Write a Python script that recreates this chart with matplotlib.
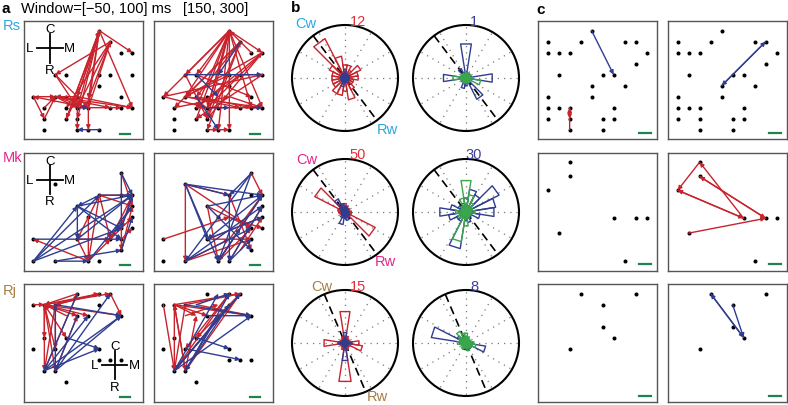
import numpy as np
import matplotlib.pyplot as plt
from matplotlib.patches import Circle

plt.rcParams['font.family'] = ['Liberation Sans', 'DejaVu Sans']

W, H = 788, 406
RED = '#C8232D'
BLUE = '#2F3D91'
GREEN = '#3AA64A'
BAR_GREEN = '#1F8350'
ROW_NAMES = ['Rs', 'Mk', 'Rj']
ROW_COLORS = ['#2AA7DF', '#E4258A', '#A57D45']
WINDOWS = ['Window=[\u221250, 100] ms', '[150, 300]']

# ---------------- panel a: electrodes (col, row) and arrows ----------------
RS_NODES = [(6, 0), (7, 1), (8, 2), (9, 2), (2, 4), (3, 4), (6, 4), (7, 4), (9, 4), (6, 5),
            (0, 6), (2, 6), (3, 6), (4, 6), (8, 6), (1, 7), (3, 7), (4, 7), (5, 7), (7, 7),
            (8, 7), (9, 7), (1, 8), (3, 8), (4, 8), (1, 9), (4, 9), (5, 9), (6, 9)]
RS1_RED = [((6, 0), (9, 2)), ((7, 1), (2, 4)), ((6, 0), (4, 7)), ((6, 0), (4, 6)), ((6, 0), (5, 7)),
           ((6, 0), (3, 8)), ((6, 0), (9, 7)), ((7, 1), (4, 7)), ((7, 1), (3, 7)), ((0, 6), (1, 8)),
           ((0, 6), (2, 6)), ((2, 6), (5, 7)), ((2, 6), (7, 7)), ((2, 6), (9, 7)), ((4, 7), (8, 7)),
           ((2, 4), (5, 7)), ((5, 6.2), (5, 9)), ((4, 7), (4, 9)), ((3, 8), (4, 6)), ((4, 6), (2, 6)),
           ((5, 7), (0, 6)), ((1, 8), (2, 6)), ((4, 6), (6, 0)), ((5, 7), (7, 1)), ((2, 4), (4, 7)),
           ((6, 0), (4, 8)), ((3, 8), (6, 0)), ((7, 1), (5, 6.2)), ((2, 6), (4, 7)), ((4, 6), (9, 7)),
           ((1, 7), (2, 6)), ((6, 0), (5, 6.2))]
RS1_BLUE = [((6, 9), (4, 9)), ((4, 7), (5, 7))]
RS2_RED = [((6, 0), (9, 2)), ((6, 0), (2, 4)), ((6, 0), (0, 6)), ((6, 0), (2, 6)), ((6, 0), (3, 7)),
           ((6, 0), (4, 7)), ((6, 0), (4, 8)), ((6, 0), (5, 9)), ((6, 0), (6, 9)), ((6, 0), (8, 7)),
           ((6, 0), (9, 7)), ((7, 1), (1, 7)), ((7, 1), (3, 6)), ((7, 1), (4, 9)), ((9, 2), (2, 6)),
           ((9, 2), (3, 7)), ((9, 2), (4, 8)), ((8, 2), (6, 0)), ((0, 6), (9, 4)), ((2, 6), (7, 7)),
           ((2, 6), (9, 7)), ((3, 6), (8, 7)), ((1, 7), (6, 6)), ((2, 4), (4, 8)), ((3, 8), (6, 0)),
           ((4, 8), (7, 1)), ((9, 4), (3, 8)), ((6, 6), (9, 7)), ((5, 9), (6, 9)), ((4, 9), (5, 9)),
           ((3, 4), (8, 6)), ((2, 6), (6, 4)), ((4, 7), (9, 2)), ((0, 6), (4, 7)), ((3, 7), (7, 4)),
           ((6, 0), (3, 4)), ((7, 1), (2, 6)), ((4, 7), (6, 0)), ((3, 7), (9, 7)), ((7, 4), (9, 4))]
RS2_BLUE = [((2, 4), (9, 4)), ((3, 6), (5, 9)), ((7, 1), (5, 4)), ((3, 4), (5, 6)),
            ((8, 7), (9, 7)), ((4, 7), (6, 7))]

MK_NODES = [(8, 1), (2, 2), (6, 3), (8, 3), (9, 3), (4, 4), (9, 4), (5, 5), (9, 5), (8, 6),
            (9, 6), (0, 7), (4, 7), (7, 7), (8, 7), (8, 8), (0, 9), (2, 9), (5, 9), (6, 9)]
MK1_BLUE = [((0, 9), (6, 3)), ((0, 9), (4, 4)), ((0, 9), (9, 3)), ((0, 7), (8, 7)), ((4, 4), (9, 3)),
            ((6, 3), (9, 3)), ((4, 4), (4, 7)), ((8, 1), (8, 6)), ((4, 4), (8, 7)), ((5, 9), (9, 4)),
            ((4, 7), (9, 3)), ((2, 9), (5, 9)), ((8, 1), (9, 3)), ((6, 3), (4, 4)), ((8, 6), (9, 3)),
            ((8, 8), (9, 5)), ((4, 4), (8, 6)), ((0, 9), (8, 6)), ((2, 9), (8, 8))]
MK1_RED = [((5, 9), (0, 7)), ((6, 3), (4, 7)), ((6, 3), (5, 9)), ((6, 3), (7, 7)), ((8, 1), (9, 4)),
           ((9, 3), (8, 6)), ((7, 7), (9, 5)), ((4, 7), (5, 9)), ((8, 8), (9, 4)), ((6, 3), (9, 4)),
           ((5, 9), (7, 7)), ((9, 3), (7, 7)), ((8, 6), (8, 8)), ((4, 7), (7, 7)), ((5, 5), (5, 9)),
           ((6, 3), (9, 3)), ((8, 7), (9, 6)), ((7, 7), (9, 4))]
MK2_BLUE = [((2, 2), (9, 3)), ((2, 2), (6, 3)), ((8, 1), (2, 9)), ((8, 1), (5, 9)), ((9, 3), (4, 7)),
            ((4, 4), (9, 3)), ((2, 9), (9, 4)), ((2, 2), (5, 9)), ((6, 3), (6, 9)), ((2, 9), (8, 6)),
            ((4, 7), (9, 5)), ((5, 9), (9, 3)), ((8, 1), (6, 3)), ((6, 9), (8, 7)), ((4, 4), (8, 8)),
            ((5, 9), (7, 6)), ((2, 2), (4, 7)), ((6, 9), (9, 4))]
MK2_RED = [((2, 2), (2, 9)), ((0, 7), (6, 5)), ((2, 2), (6, 3)), ((4, 4), (5, 9)), ((6, 3), (8, 8)),
           ((9, 3), (5, 9)), ((2, 9), (8, 7)), ((4, 7), (9, 5)), ((2, 2), (8, 6)), ((6, 9), (9, 4)),
           ((5, 9), (8, 6)), ((4, 7), (8, 7)), ((8, 1), (9, 3)), ((6, 5), (9, 6)), ((4, 4), (8, 6)),
           ((2, 9), (6, 7)), ((7, 8), (9, 5)), ((6, 7), (9, 3))]

RJ_NODES = [(4, 0), (6, 0), (7, 0), (0, 1), (1, 1), (2, 1), (6, 1), (4, 2), (5, 2), (8, 2),
            (1, 4), (3, 4), (0, 5), (2, 5), (6, 5), (6, 6), (7, 6), (8, 6), (1, 7), (2, 7), (3, 8)]
RJ1_RED = [((1, 1), (7, 0)), ((1, 1), (6, 0)), ((1, 1), (1, 7)), ((1, 1), (2, 7)), ((2, 1), (1, 7)),
           ((1, 1), (3, 4)), ((4, 0), (1, 1)), ((7, 0), (8, 2)), ((1, 1), (8, 2)), ((1, 1), (4, 2)),
           ((2, 1), (2, 5)), ((6, 0), (2, 1)), ((1, 7), (4, 0)), ((2, 7), (4, 2)), ((1, 1), (1, 4)),
           ((2, 5), (1, 1)), ((3, 2), (1, 1)), ((0, 1), (1, 1)), ((2, 1), (6, 0)), ((1, 1), (5, 2))]
RJ1_BLUE = [((1, 7), (8, 2)), ((1, 7), (6, 5)), ((2, 7), (8, 2)), ((2, 7), (2, 1)), ((4, 0), (1, 7)),
            ((3, 4), (6, 5)), ((2, 7), (7, 0)), ((1, 7), (5, 2)), ((2, 1), (8, 2)), ((4, 2), (2, 7))]
RJ2_RED = [((1, 1), (7, 0)), ((2, 1), (7, 0)), ((1, 1), (1, 7)), ((1, 1), (2, 7)), ((2, 1), (1, 7)),
           ((7, 0), (1, 7)), ((7, 0), (2, 7)), ((6, 0), (2, 5)), ((1, 1), (8, 2)), ((3, 1), (8, 2)),
           ((0, 1), (1, 7)), ((1, 1), (3, 2)), ((2, 2), (5, 1)), ((1, 1), (4, 2)), ((2, 7), (3, 2)),
           ((7, 0), (3, 4)), ((1, 7), (6, 0)), ((2, 7), (1, 1))]
RJ2_BLUE = [((1, 7), (7, 0)), ((2, 7), (6, 0)), ((1, 7), (5, 0)), ((3, 4), (6, 5)), ((2, 5), (7, 6)),
            ((1, 7), (6, 1)), ((2, 1), (8, 2)), ((4, 2), (8, 2)), ((6, 1), (2, 7)), ((3, 1), (6, 0)),
            ((1, 7), (8, 2)), ((2, 7), (5, 2))]

# ---------------- panel c ----------------
C1_NODES = [(4, 0), (0, 1), (3, 1), (7, 1), (8, 1), (0, 2), (1, 2), (2, 2), (9, 2), (8, 3),
            (1, 4), (5, 4), (6, 4), (4, 5), (7, 5), (0, 6), (4, 6), (0, 7), (1, 7), (2, 7),
            (6, 7), (0, 8), (2, 8), (5, 8), (6, 8), (2, 9), (5, 9)]
C2_NODES = [(2, 0), (2, 1.3), (0, 2.55), (1, 6.45), (6, 5.1), (8, 5.1), (9, 5.1), (7, 9)]
C3_NODES = [(3, 0), (8, 0), (5, 1), (5, 3), (6, 4), (2, 5)]
C1L_RED = [((2, 9), (2, 7)), ((2, 7), (2, 8))]
C1L_BLUE = [((4, 0), (6, 4))]
C1R_BLUE = [((4, 5), (8, 1)), ((8, 1), (4, 5))]
C2R_RED = [((2, 0), (0, 2.55)), ((6, 5.1), (2, 0)), ((0, 2.55), (6, 5.1)), ((6, 5.1), (0, 2.55)),
           ((2, 1.3), (8, 5.1)), ((8, 5.1), (2, 1.3)), ((1, 6.45), (8, 5.1))]
C3R_BLUE = [((6, 4), (3, 0)), ((3, 0), (6, 4)), ((5, 1), (6, 4))]

# ---------------- panel b: rose counts, 20 bins centred at 0, 18, 36 ... deg ----------------
ROSE_MAX = [(12, 1), (50, 30), (15, 8)]
ROSE_AXIS_DEG = [127, 127, 113]
R1L_RED = [3, 3, 4, 2, 3, 3, 5, 10, 4, 3, 3, 3, 3, 4, 4, 3, 5, 3, 2, 2]
R1L_BLUE = [1, 1, 1, 0, 1, 2, 1, 1, 1, 1, 1, 1, 1, 1, 2, 1, 1, 0, 1, 1]
R1R_BLUE = [0.5, 0.1, 0, 0.1, 0.1, 0.65, 0.1, 0.2, 0, 0.1, 0.43, 0, 0.1, 0.1, 0.2, 0.15, 0.1, 0.45, 0, 0.1]
R1R_GREEN = [0.1, 0, 0.1, 0, 0.1, 0.1, 0, 0.1, 0, 0.1, 0.25, 0.1, 0, 0.1, 0.1, 0, 0.1, 0.1, 0, 0.28]
R2L_RED = [6, 4, 5, 4, 6, 8, 8, 9, 32, 7, 6, 5, 4, 4, 5, 4, 5, 6, 32, 6]
R2L_BLUE = [4, 3, 3, 4, 5, 5, 8, 14, 6, 4, 3, 3, 4, 6, 12, 6, 8, 4, 5, 3]
R2R_BLUE = [16, 17, 21, 11, 13, 8, 5, 4, 5, 9, 15, 10, 6, 6, 21, 5, 6, 4, 3, 8]
R2R_GREEN = [5, 3, 4, 6, 10, 18, 8, 4, 3, 3, 6, 4, 5, 4, 17, 8, 4, 3, 3, 3]
R3L_RED = [4, 1.5, 1, 1.5, 2, 9, 2, 1.5, 1, 1.5, 6, 1.5, 1, 1.5, 2, 11, 2, 1.5, 1.5, 5]
R3L_BLUE = [2, 1, 1, 1, 1, 3, 1, 1, 1, 1, 2, 1, 1, 1, 1, 5, 1, 1, 1, 1]
R3R_BLUE = [1, 0.5, 0.5, 0.5, 0.5, 1, 0.5, 1, 1.5, 5.3, 1, 0.5, 0.5, 0.5, 1, 1, 0.5, 1, 1, 3]
R3R_GREEN = [1.2, 0.8, 0.7, 0.8, 1, 1.5, 1.5, 2, 1.2, 1, 1.3, 0.8, 0.7, 1, 0.8, 0.8, 1.2, 0.8, 1, 1.5]

A_PANELS = [(RS_NODES, [(RS1_RED, RS1_BLUE), (RS2_RED, RS2_BLUE)]),
            (MK_NODES, [(MK1_RED, MK1_BLUE), (MK2_RED, MK2_BLUE)]),
            (RJ_NODES, [(RJ1_RED, RJ1_BLUE), (RJ2_RED, RJ2_BLUE)])]
C_PANELS = [(C1_NODES, [(C1L_RED, C1L_BLUE), ([], C1R_BLUE)]),
            (C2_NODES, [([], []), (C2R_RED, [])]),
            (C3_NODES, [([], []), ([], C3R_BLUE)])]
ROSES = [[(R1L_RED, R1L_BLUE), (R1R_BLUE, R1R_GREEN)],
         [(R2L_RED, R2L_BLUE), (R2R_BLUE, R2R_GREEN)],
         [(R3L_RED, R3L_BLUE), (R3R_BLUE, R3R_GREEN)]]

ROW_TOP = [22, 153.5, 285]
BOX_W, BOX_H = 119, 118

fig = plt.figure(figsize=(W / 100, H / 100), dpi=100)


def px_axes(x, y, w, h):
    return fig.add_axes([x / W, 1 - (y + h) / H, w / W, h / H])


def px_text(x, y, s, **kw):
    fig.text(x / W, 1 - y / H, s, va='center', **kw)


def grid_box(x, y, nodes, bar):
    ax = px_axes(x, y, BOX_W, BOX_H)
    ax.set_xlim(-0.85, -0.85 + BOX_W / 11)
    ax.set_ylim(-0.88 + BOX_H / 11, -0.88)
    ax.set_xticks([])
    ax.set_yticks([])
    for s in ax.spines.values():
        s.set_color('#555555')
        s.set_linewidth(1)
    xs, ys = zip(*nodes)
    ax.plot(xs, ys, 'o', color='k', ms=1.9, zorder=1)
    ax.plot(bar[:2], [bar[2], bar[2]], color=BAR_GREEN, lw=1.6)
    return ax


def arrows(ax, edges, color):
    for (x0, y0), (x1, y1) in edges:
        ax.annotate('', xy=(x1, y1), xytext=(x0, y0),
                    arrowprops=dict(arrowstyle='-|>', color=color, lw=1.0,
                                    shrinkA=0, shrinkB=0, mutation_scale=6))


def cross(ax, cx, cy):
    ax.plot([cx - 1.15, cx + 1.15], [cy, cy], color='k', lw=1.3)
    ax.plot([cx, cx], [cy - 1.3, cy + 1.3], color='k', lw=1.3)
    for dx, dy, s in [(0, -1.75, 'C'), (-1.8, 0, 'L'), (1.75, 0, 'M'), (0, 1.95, 'R')]:
        ax.text(cx + dx, cy + dy, s, ha='center', va='center', fontsize=9.5)


def rose(ax, counts, color, rmax):
    for k, c in enumerate(counts):
        if c <= 0:
            continue
        t = np.deg2rad([18 * k - 9, 18 * k + 9])
        r = c / rmax
        ax.plot([0, r * np.cos(t[0]), r * np.cos(t[1]), 0],
                [0, r * np.sin(t[0]), r * np.sin(t[1]), 0], color=color, lw=1.0)


# panel a
for i, (nodes, boxes) in enumerate(A_PANELS):
    for j, (red, blue) in enumerate(boxes):
        ax = grid_box(24 + 130 * j, ROW_TOP[i], nodes, (7.85, 8.8, 9.35))
        arrows(ax, red, RED)
        arrows(ax, blue, BLUE)
        if j == 0:
            if i < 2:
                cross(ax, 1.5, 1.6)
            else:
                cross(ax, 7.4, 6.5)

# panel c
for i, (nodes, boxes) in enumerate(C_PANELS):
    for j, (red, blue) in enumerate(boxes):
        ax = grid_box(538.3 + 130 * j, ROW_TOP[i], nodes, (8.3, 9.35, 9.3))
        arrows(ax, red, RED)
        arrows(ax, blue, BLUE)

# panel b
centres_y = [79, 213, 344]
centres_x = [345, 466]
R_PX = 53
for i in range(3):
    for j in range(2):
        ax = px_axes(centres_x[j] - R_PX * 1.06, centres_y[i] - R_PX * 1.06,
                     2 * R_PX * 1.06, 2 * R_PX * 1.06)
        ax.set_xlim(-1.06, 1.06)
        ax.set_ylim(-1.06, 1.06)
        ax.axis('off')
        for a in np.deg2rad(np.arange(0, 360, 30)):
            ax.plot([0, np.cos(a)], [0, np.sin(a)], color='#777777', lw=0.9,
                    linestyle=(0, (1, 4)))
        ax.add_patch(Circle((0, 0), 1, fill=False, color='k', lw=1.5))
        a = np.deg2rad(ROSE_AXIS_DEG[i])
        ax.plot([np.cos(a), -np.cos(a)], [np.sin(a), -np.sin(a)], color='k', lw=1.2,
                linestyle=(0, (5, 3)))
        first, second = ROSES[i][j]
        rmax = ROSE_MAX[i][j]
        if j == 0:
            rose(ax, first, RED, rmax)
            rose(ax, second, BLUE, rmax)
        else:
            rose(ax, first, BLUE, rmax)
            rose(ax, second, GREEN, rmax)

# labels
px_text(2, 9, 'a', fontsize=11, fontweight='bold')
px_text(21, 9, WINDOWS[0], fontsize=10.5)
px_text(216, 9, WINDOWS[1], fontsize=10.5, ha='center')
px_text(291, 8, 'b', fontsize=11, fontweight='bold')
px_text(536, 10, 'c', fontsize=11, fontweight='bold')
for i, y in enumerate([26, 158, 291]):
    px_text(3, y, ROW_NAMES[i], fontsize=10.5, color=ROW_COLORS[i])

cw_pos = [(306, 24), (307, 160), (322, 287)]
rw_pos = [(387, 130), (385, 262), (377, 397)]
num_y = [22, 155, 287]
for i in range(3):
    px_text(cw_pos[i][0], cw_pos[i][1], 'Cw', fontsize=10.5, color=ROW_COLORS[i], ha='center')
    px_text(rw_pos[i][0], rw_pos[i][1], 'Rw', fontsize=10.5, color=ROW_COLORS[i], ha='center')
    px_text(358, num_y[i], str(ROSE_MAX[i][0]), fontsize=10.5, color='#E0303A', ha='center')
    px_text(474, num_y[i], str(ROSE_MAX[i][1]), fontsize=10.5, color='#3B3F9A', ha='center')

fig.savefig('out.png', dpi=100)
